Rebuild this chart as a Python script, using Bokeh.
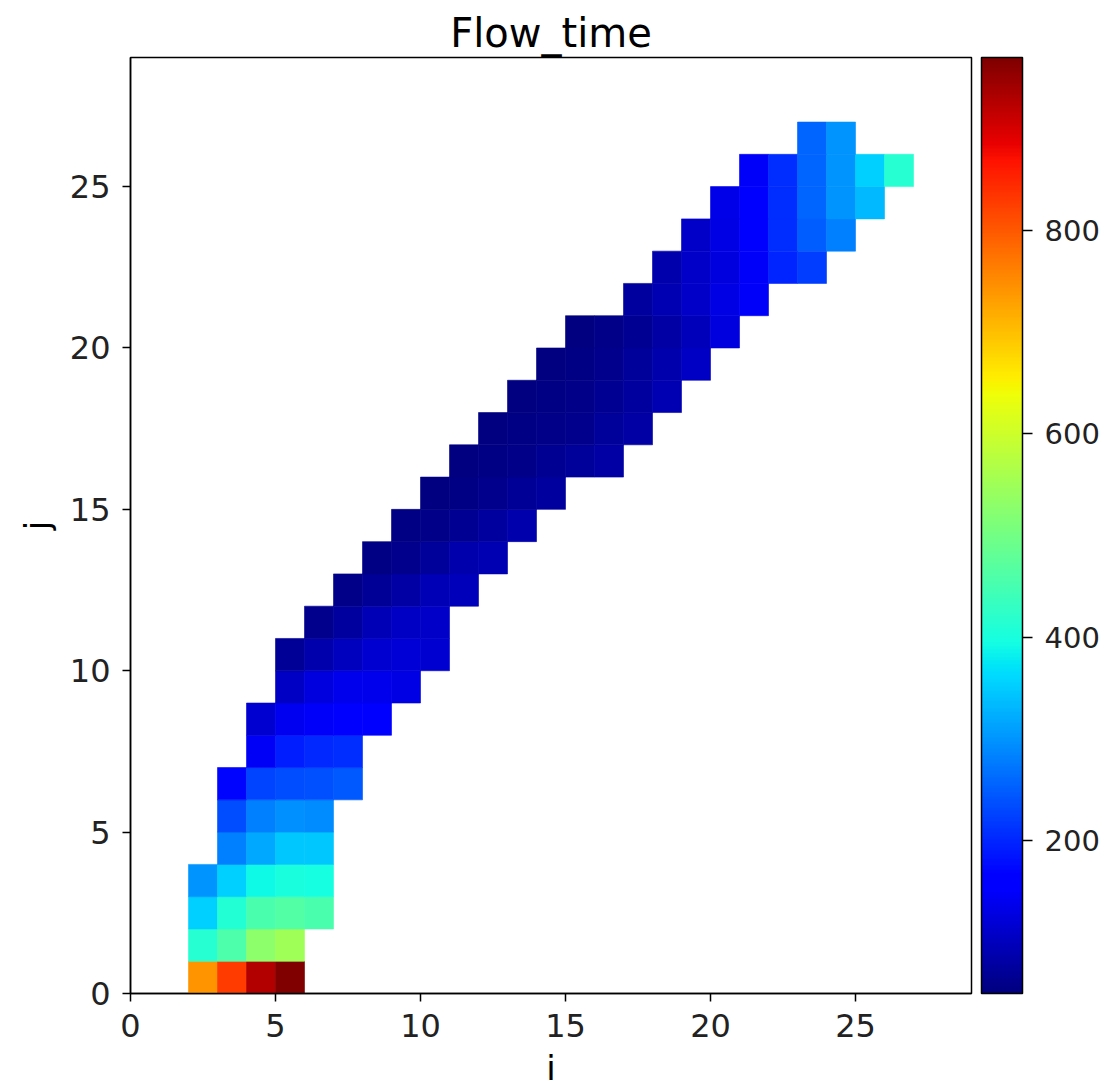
import numpy as np
from bokeh.plotting import figure
from bokeh.models import (ColumnDataSource, LinearColorMapper, ColorBar,
                          FixedTicker, Range1d)
from bokeh.embed import file_html
from bokeh.resources import INLINE

# ---- data: Flow_time per cell (row j, starting column i) ----
row_j = list(range(27))
row_i_start = [2, 2, 2, 2, 3, 3, 3, 4, 4, 5, 5, 6, 7, 8, 9, 10, 11, 12, 13,
               14, 15, 17, 18, 19, 20, 21, 23]
row_values = [
    [740, 827, 930, 970],
    [415, 458, 528, 551],
    [354, 410, 455, 465, 455],
    [300, 354, 390, 400, 395],
    [283, 317, 345, 345],
    [234, 283, 296, 292],
    [170, 228, 236, 240, 245],
    [147, 192, 202, 207],
    [115, 142, 150, 155, 155],
    [107, 127, 139, 139, 131],
    [70, 86, 102, 115, 119, 115],
    [64, 78, 94, 106, 110],
    [60, 70, 82, 94, 98],
    [56, 64, 74, 86, 90],
    [54, 60, 67, 78, 86],
    [53, 57, 62, 70, 78],
    [53, 56, 60, 65, 72, 80],
    [52, 55, 59, 64, 72, 82],
    [51, 55, 59, 66, 77, 92],
    [51, 55, 62, 72, 87, 107],
    [53, 58, 66, 80, 100, 127],
    [78, 93, 109, 132, 149],
    [89, 109, 129, 150, 200, 220],
    [109, 132, 155, 205, 250, 283],
    [135, 155, 205, 255, 300, 333],
    [150, 205, 255, 300, 355, 415],
    [255, 300],
]
x_ticks = [0, 5, 10, 15, 20, 25]
y_ticks = [0, 5, 10, 15, 20, 25]
cbar_ticks = [200, 400, 600, 800]
v_min, v_max = 50, 970

# ---- build cell table ----
xs, ys, vs = [], [], []
for j, i0, vals in zip(row_j, row_i_start, row_values):
    for k, v in enumerate(vals):
        xs.append(i0 + k + 0.5)
        ys.append(j + 0.5)
        vs.append(v)
src = ColumnDataSource(dict(x=xs, y=ys, v=vs))

# jet colormap
def jet_palette(n=256):
    t = np.linspace(0, 1, n)
    r = np.interp(t, [0, 0.35, 0.66, 0.89, 1], [0, 0, 1, 1, 0.5])
    g = np.interp(t, [0, 0.125, 0.375, 0.64, 0.91, 1], [0, 0, 1, 1, 0, 0])
    b = np.interp(t, [0, 0.11, 0.34, 0.65, 1], [0.5, 1, 1, 0, 0])
    return ["#%02x%02x%02x" % (int(round(a * 255)), int(round(c * 255)), int(round(d * 255)))
            for a, c, d in zip(r, g, b)]

mapper = LinearColorMapper(palette=jet_palette(), low=v_min, high=v_max)

FONT = "DejaVu Sans"
p = figure(frame_width=841, frame_height=936,
           x_range=Range1d(0, 29), y_range=Range1d(0, 29),
           output_backend="svg", toolbar_location=None,
           min_border_left=130, min_border_top=57, min_border_bottom=90,
           min_border_right=0, title="Flow_time")

p.rect(x="x", y="y", width=1, height=1, source=src,
       fill_color={"field": "v", "transform": mapper},
       line_color={"field": "v", "transform": mapper}, line_width=0.6)

p.title.text_font = FONT
p.title.text_font_size = "40px"
p.title.text_font_style = "normal"
p.title.text_color = "black"
p.title.align = "center"
p.title.standoff = 4

p.grid.visible = False
p.outline_line_color = "black"
p.outline_line_width = 1.5

for ax, ticks, lab in ((p.xaxis[0], x_ticks, "i"), (p.yaxis[0], y_ticks, "j")):
    ax.ticker = FixedTicker(ticks=ticks)
    ax.axis_label = lab
    ax.axis_label_text_font = FONT
    ax.axis_label_text_font_size = "34px"
    ax.axis_label_text_font_style = "normal"
    ax.axis_label_text_color = "black"
    ax.major_label_text_font = FONT
    ax.major_label_text_font_size = "32px"
    ax.major_label_text_color = "#222222"
    ax.major_tick_in = 0
    ax.major_tick_out = 8
    ax.major_tick_line_width = 1.5
    ax.minor_tick_line_color = None
    ax.axis_line_width = 1.5
    ax.axis_line_color = "black"
    ax.major_label_standoff = 12

p.xaxis[0].axis_label_standoff = 8
p.yaxis[0].axis_label_standoff = 10

cb = ColorBar(color_mapper=mapper, width=41, height=936,
              ticker=FixedTicker(ticks=cbar_ticks),
              major_label_text_font=FONT, major_label_text_font_size="29px",
              major_label_text_color="#222222",
              major_tick_in=0, major_tick_out=10, major_tick_line_color="black",
              major_tick_line_width=1.5, label_standoff=12,
              bar_line_color="black", bar_line_width=1.5,
              padding=0, margin=0, location=(10, 0))
p.add_layout(cb, "right")

open("out.html", "w").write(file_html(p, INLINE))
